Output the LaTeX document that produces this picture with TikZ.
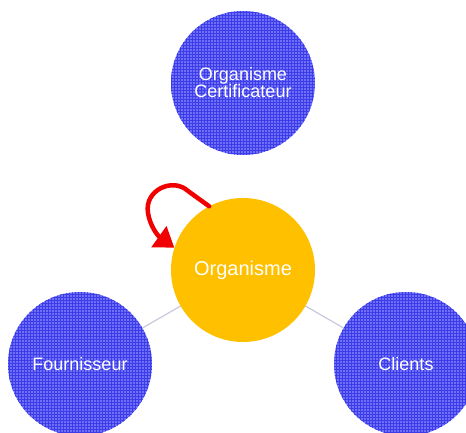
\documentclass[tikz,border=0pt]{standalone}
\usepackage{fontspec}
\setmainfont{Liberation Sans}
\usetikzlibrary{arrows.meta, patterns, positioning}
\definecolor{hatchblue}{RGB}{112,112,246}
\definecolor{gridblue}{RGB}{60,60,235}
\definecolor{orggold}{RGB}{255,192,0}
\definecolor{linkgrey}{RGB}{200,200,218}
\definecolor{loopred}{RGB}{240,0,0}

\begin{document}
\begin{tikzpicture}[x=1pt, y=-1pt,
		partner/.style={circle, minimum size=144pt, inner sep=0pt, fill=hatchblue, text=white, align=center, font=\fontsize{18}{17}\selectfont, postaction={pattern=grid, pattern color=gridblue}},
		central/.style={circle, minimum size=144pt, inner sep=0pt, fill=orggold, text=white, font=\fontsize{20}{20}\selectfont},
		link/.style={draw=linkgrey, line width=1.2pt}]
		\useasboundingbox (0,0) rectangle (466,432);
		\clip (0,0) rectangle (466,432);
		
		\node[partner] (certif) at (243,83) {Organisme\\Certificateur};
		\node[partner] (fourn) at (80,364) {Fournisseur};
		\node[partner] (clients) at (406,364) {Clients};
		\path[link] (fourn) -- (243,270);
		\path[link] (clients) -- (243,270);
		\node[central] (org) at (243,270) {Organisme};
		
		% boucle d'amelioration
		\draw[loopred, line width=4.5pt, line cap=round, -{Triangle[length=19pt, width=25pt]}] (org.118) -- (188,191) .. controls (173,177) and (144,190) .. (148,213) .. controls (150,226) and (158,236) .. (org.162);
\end{tikzpicture}
\end{document}
